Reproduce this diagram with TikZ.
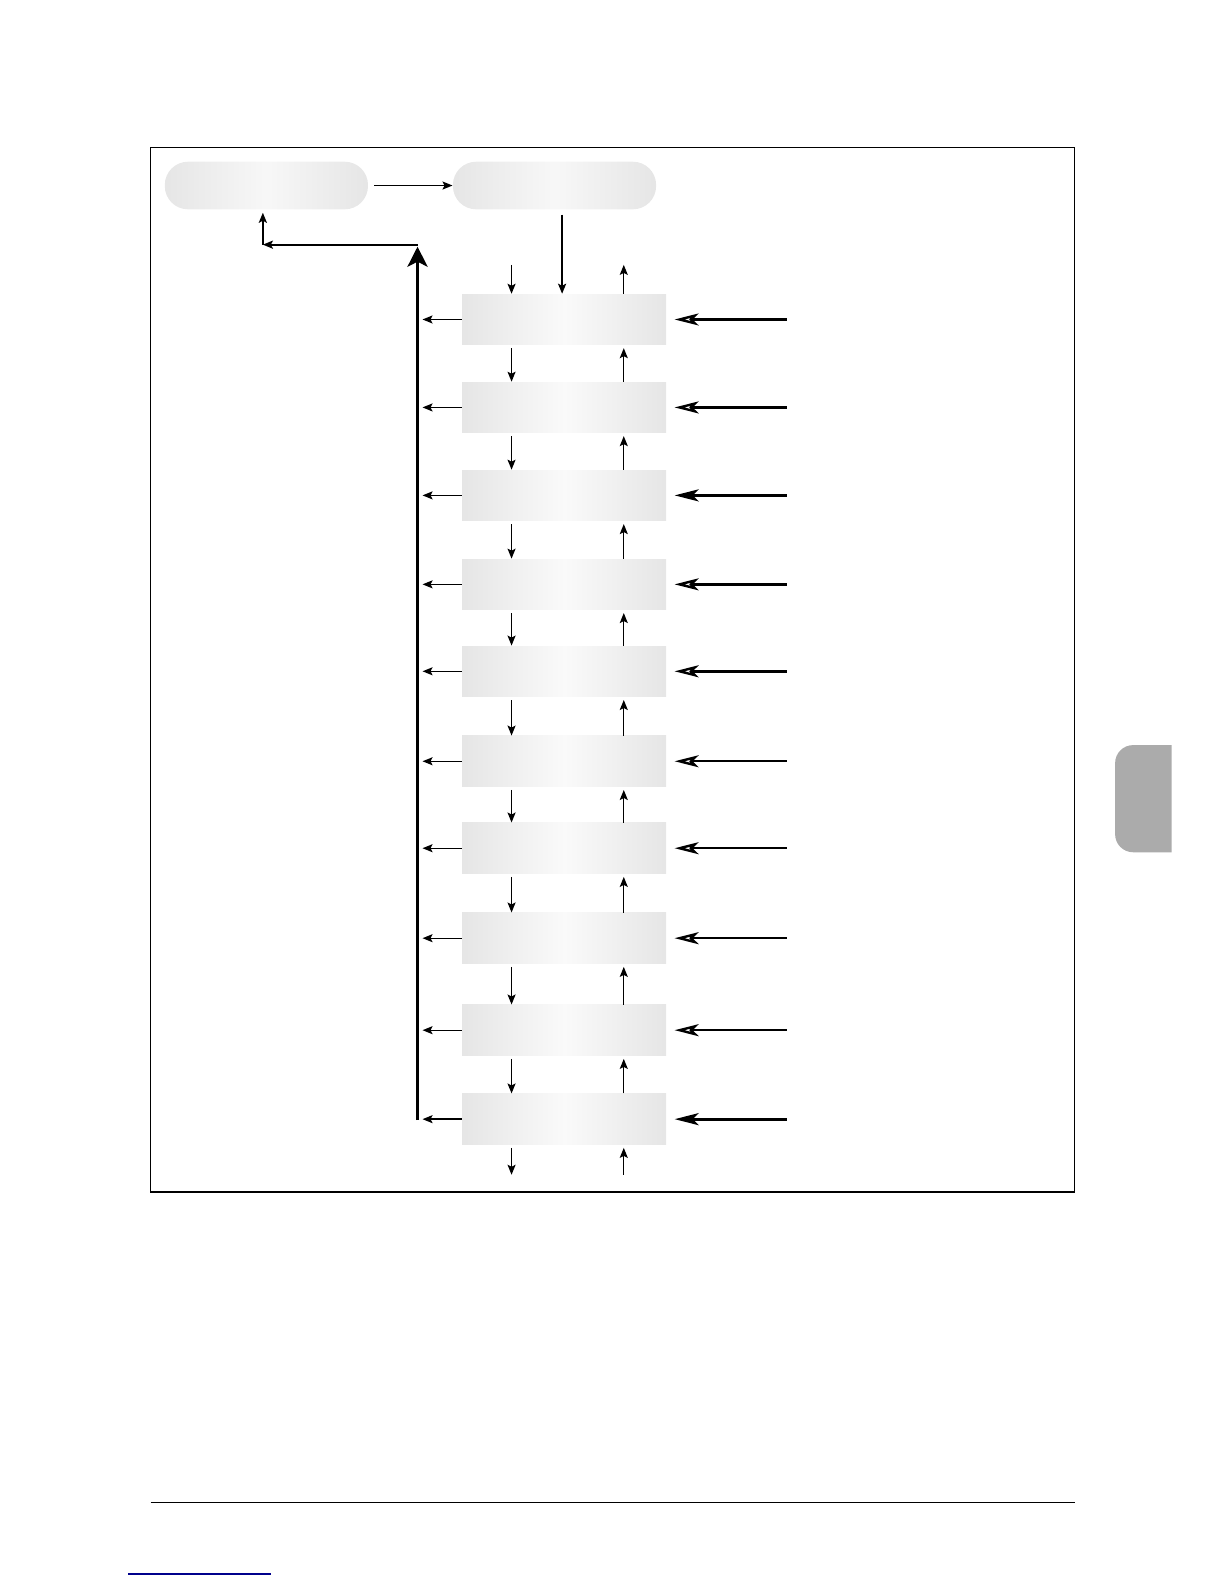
\documentclass[tikz,border=0pt]{standalone}
\usetikzlibrary{arrows.meta,calc}
\begin{document}
\begin{tikzpicture}[x=0.5055pt,y=-0.5055pt,
  stagebox/.style={rectangle,draw=none,inner sep=0pt,minimum width=102.1pt,minimum height=25.3pt,
     left color=black!10,right color=black!10,middle color=black!2},
  roundbox/.style={rectangle,draw=none,inner sep=0pt,rounded corners=11.6pt,minimum width=101.6pt,minimum height=23.8pt,
     left color=black!10,right color=black!10,middle color=black!3},
  arr/.style={line width=0.7pt,-{Stealth[length=5pt,width=4pt,inset=1pt]}},
  inarr/.style={line width=1.2pt,-{Stealth[open,fill=white,length=12pt,width=6pt,inset=3pt]}},
  inarrthick/.style={inarr,line width=1.6pt},
]
\useasboundingbox (0,0) rectangle (1210.7,1566.8);
% frame
\draw[line width=0.75pt] (149,146) rectangle (1063,1179);
% top boxes
\node[roundbox] (tl) at (263.5,183.5) {};
\node[roundbox] (tr) at (548.5,183.5) {};
% stage boxes
\foreach \i/\y in {1/316,2/403,3/490,4/578,5/664,6/753,7/839,8/928,9/1019,10/1107}{
  \node[stagebox] (b\i) at (558,\y) {};
}
\coordinate (xd) at (506,0);
\coordinate (xu) at (617,0);
\coordinate (xm) at (556,0);
\coordinate (bus) at (413,0);
% top arrow
\draw[arr] ([xshift=3pt]tl.east) -- (tr.west);
\draw[arr,line width=1pt] ([yshift=-2.5pt]tr.south -| xm) -- (b1.north -| xm);
% arrows above box 1
\coordinate (d0) at (506,262);
\coordinate (u0) at (617,262);
\draw[arr] (d0) -- (b1.north -| d0);
\draw[arr] (b1.north -| u0) -- (u0);
% between boxes
\foreach \i [evaluate=\i as \j using int(\i+1)] in {1,...,9}{
  \draw[arr] ([yshift=-1.5pt]b\i.south -| xd) -- (b\j.north -| xd);
  \draw[arr] (b\j.north -| xu) -- ([yshift=-1.5pt]b\i.south -| xu);
}
% below box 10
\coordinate (d11) at (506,1162);
\coordinate (u11) at (617,1162);
\draw[arr] ([yshift=-1.5pt]b10.south -| d11) -- (d11);
\draw[arr] (u11) -- ([yshift=-1.5pt]b10.south -| u11);
% left outputs
\foreach \i in {1,...,10}{
  \draw[arr,shorten >=2.5pt] (b\i.west) -- (b\i.west -| bus);
}
% right inputs
\foreach \i in {1,2,4,5,6,7,8,9}{
  \coordinate (r\i) at (b\i.east -| 778,0);
  \draw[inarr] (r\i) -- ([xshift=4pt]b\i.east);
}
\foreach \i in {3,10}{
  \coordinate (r\i) at (b\i.east -| 778,0);
  \draw[inarrthick] (r\i) -- ([xshift=4pt]b\i.east);
}
% return bus
\coordinate (busbot) at (413,1108);
\coordinate (bustop) at (413,242);
\coordinate (corner) at (260,242);
\draw[line width=1.8pt,-{Stealth[length=10pt,width=10pt,inset=2.5pt]}] (busbot) -- ([yshift=-1pt]bustop);
\draw[arr,line width=1pt] (bustop) -- (corner);
\draw[arr,line width=1pt] (corner) -- ([yshift=-1.5pt]tl.south -| corner);
% side tab
\fill[black!33] (1159,737) {[rounded corners=9pt] -- (1103,737) -- (1103,843)} -- (1159,843) -- cycle;
% footer lines
\draw[line width=0.7pt] (149,1486) -- (1063,1486);
\draw[line width=0.7pt,blue!55!black] (127,1557) -- (268,1557);
\end{tikzpicture}
\end{document}
